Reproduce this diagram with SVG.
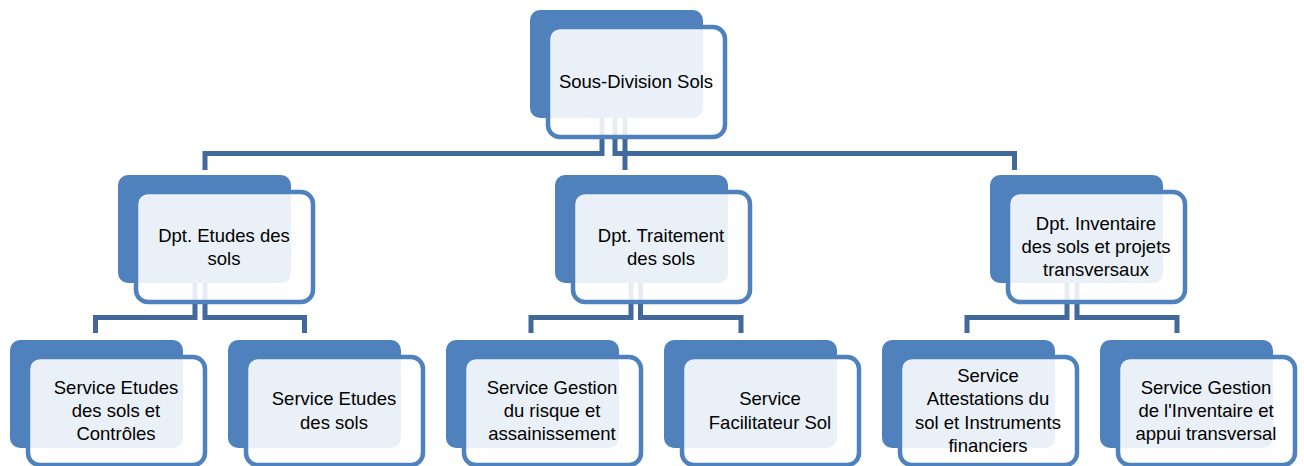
<svg xmlns="http://www.w3.org/2000/svg" width="1304" height="466" viewBox="0 0 1304 466">
  <style>
    .link { fill: none; stroke: #41699C; stroke-width: 5; stroke-linejoin: miter; }
    .back { fill: #4F81BD; }
    .front { fill: #FFFFFF; fill-opacity: 0.88; stroke: #4F81BD; stroke-width: 4.5; }
    .label { font-family: "Liberation Sans", Arial, sans-serif; font-size: 18.5px; fill: #000000; text-anchor: middle; }
  </style>
  <rect width="1304" height="466" fill="#FFFFFF"/>

  <!-- connectors (drawn first so the cards sit over their ends) -->
  <g id="connectors">
    <path class="link" d="M602,90 V153.5 H205 V170"/>
    <path class="link" d="M615,90 V153.5 H1014.5 V170"/>
    <path class="link" d="M625,90 V170"/>

    <path class="link" d="M195,255 V317.5 H95.5 V333"/>
    <path class="link" d="M205,255 V317.5 H304.5 V333"/>

    <path class="link" d="M631,255 V317.5 H531 V333"/>
    <path class="link" d="M640.5,255 V317.5 H741 V333"/>

    <path class="link" d="M1067,255 V317.5 H967 V333"/>
    <path class="link" d="M1077,255 V317.5 H1177 V333"/>
  </g>

  <!-- level 0 -->
  <g id="sous-division-sols">
    <rect class="back" x="530" y="10" width="173" height="108" rx="10"/>
    <rect class="front" x="548" y="27" width="177" height="110" rx="12"/>
    <text class="label" x="636" y="88">Sous-Division Sols</text>
  </g>

  <!-- level 1 -->
  <g id="dpt-etudes">
    <rect class="back" x="118" y="175" width="173" height="108" rx="10"/>
    <rect class="front" x="136" y="192" width="177" height="110" rx="12"/>
    <text class="label" x="224" y="242">Dpt. Etudes des</text>
    <text class="label" x="224" y="265.4">sols</text>
  </g>

  <g id="dpt-traitement">
    <rect class="back" x="555" y="175" width="173" height="108" rx="10"/>
    <rect class="front" x="573" y="192" width="177" height="110" rx="12"/>
    <text class="label" x="661" y="242">Dpt. Traitement</text>
    <text class="label" x="661" y="265.4">des sols</text>
  </g>

  <g id="dpt-inventaire">
    <rect class="back" x="990" y="175" width="173" height="108" rx="10"/>
    <rect class="front" x="1008" y="192" width="177" height="110" rx="12"/>
    <text class="label" x="1096" y="229.6">Dpt. Inventaire</text>
    <text class="label" x="1096" y="253">des sols et projets</text>
    <text class="label" x="1096" y="276.4">transversaux</text>
  </g>

  <!-- level 2 -->
  <g id="svc-etudes-controles">
    <rect class="back" x="10" y="340" width="173" height="108" rx="10"/>
    <rect class="front" x="28" y="357" width="177" height="108" rx="12"/>
    <text class="label" x="116" y="393.6">Service Etudes</text>
    <text class="label" x="116" y="417">des sols et</text>
    <text class="label" x="116" y="440.4">Contrôles</text>
  </g>

  <g id="svc-etudes-sols">
    <rect class="back" x="228" y="340" width="173" height="108" rx="10"/>
    <rect class="front" x="246" y="357" width="177" height="108" rx="12"/>
    <text class="label" x="334" y="405.3">Service Etudes</text>
    <text class="label" x="334" y="428.7">des sols</text>
  </g>

  <g id="svc-gestion-risque">
    <rect class="back" x="446" y="340" width="173" height="108" rx="10"/>
    <rect class="front" x="464" y="357" width="177" height="108" rx="12"/>
    <text class="label" x="552" y="393.6">Service Gestion</text>
    <text class="label" x="552" y="417">du risque et</text>
    <text class="label" x="552" y="440.4">assainissement</text>
  </g>

  <g id="svc-facilitateur">
    <rect class="back" x="664" y="340" width="173" height="108" rx="10"/>
    <rect class="front" x="682" y="357" width="177" height="108" rx="12"/>
    <text class="label" x="770" y="405.3">Service</text>
    <text class="label" x="770" y="428.7">Facilitateur Sol</text>
  </g>

  <g id="svc-attestations">
    <rect class="back" x="882" y="340" width="173" height="108" rx="10"/>
    <rect class="front" x="900" y="357" width="177" height="108" rx="12"/>
    <text class="label" x="988" y="381.9">Service</text>
    <text class="label" x="988" y="405.3">Attestations du</text>
    <text class="label" x="988" y="428.7">sol et Instruments</text>
    <text class="label" x="988" y="452.1">financiers</text>
  </g>

  <g id="svc-gestion-inventaire">
    <rect class="back" x="1100" y="340" width="173" height="108" rx="10"/>
    <rect class="front" x="1118" y="357" width="177" height="108" rx="12"/>
    <text class="label" x="1206" y="393.6">Service Gestion</text>
    <text class="label" x="1206" y="417">de l'Inventaire et</text>
    <text class="label" x="1206" y="440.4">appui transversal</text>
  </g>
</svg>
